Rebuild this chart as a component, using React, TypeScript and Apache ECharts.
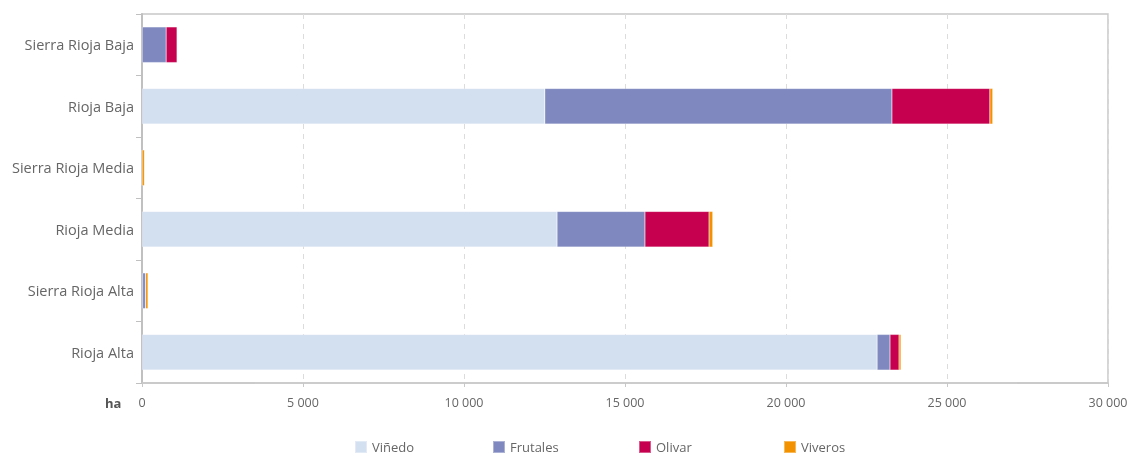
import React, { useEffect, useRef } from "react";
import * as echarts from "echarts";

const categories = ["Rioja Alta", "Sierra Rioja Alta", "Rioja Media", "Sierra Rioja Media", "Rioja Baja", "Sierra Rioja Baja"];
const seriesNames = ["Viñedo", "Frutales", "Olivar", "Viveros"];
const vinedo = [22830, 20, 12890, 5, 12510, 10];
const frutales = [400, 90, 2730, 0, 10780, 740];
const olivar = [280, 5, 1990, 0, 3040, 340];
const viveros = [60, 70, 115, 70, 90, 0];
const xTicks = [0, 5000, 10000, 15000, 20000, 25000, 30000];
const colors = ["#d3e0f0", "#7f89bf", "#c6004f", "#f39200"];

export default function App() {
  const ref = useRef<HTMLDivElement>(null);
  useEffect(() => {
    document.body.style.margin = "0";
    const chart = echarts.init(ref.current!, null, { renderer: "svg" });
    const font = "'Open Sans', 'Noto Sans', sans-serif";
    const data = [vinedo, frutales, olivar, viveros];
    const legendLefts = [354, 492, 638, 783];
    chart.setOption({
      animation: false,
      textStyle: { fontFamily: font },
      grid: {
        left: 142, right: 24, top: 14, bottom: 73,
        show: true, borderColor: "#c8c8c8", borderWidth: 1.5,
      },
      xAxis: {
        type: "value",
        min: xTicks[0],
        max: xTicks[xTicks.length - 1],
        interval: 5000,
        axisLine: { show: true, lineStyle: { color: "#c8c8c8", width: 1.5 } },
        axisTick: { show: true, length: 4, lineStyle: { color: "#c8c8c8" } },
        splitLine: { show: true, lineStyle: { color: "#dcdcdc", type: [5, 5] } },
        axisLabel: {
          color: "#666", fontSize: 12.5, margin: 13,
          formatter: (v: number) => String(v).replace(/\B(?=(\d{3})+(?!\d))/g, " "),
        },
      },
      yAxis: {
        type: "category",
        data: categories,
        axisLine: { show: true, lineStyle: { color: "#c0c0c0", width: 2 } },
        axisTick: { show: true, length: 6, lineStyle: { color: "#c0c0c0" } },
        axisLabel: { color: "#666", fontSize: 14.5, margin: 8 },
      },
      legend: seriesNames.map((name, i) => ({
        left: legendLefts[i], top: 440, padding: 0,
        itemWidth: 12, itemHeight: 12, itemGap: 10,
        icon: "rect",
        textStyle: { color: "#666", fontSize: 13, lineHeight: 13 },
        data: [name],
      })),
      graphic: [
        { type: "text", left: 105, top: 396, style: { text: "ha", fill: "#555", font: `bold 13px ${font}` } },
      ],
      series: seriesNames.map((name, i) => ({
        name,
        type: "bar",
        stack: "total",
        barWidth: "58%",
        itemStyle: { color: colors[i], borderColor: "rgba(255,255,255,0.35)", borderWidth: 0.5 },
        data: data[i],
      })),
    });
    return () => chart.dispose();
  }, []);
  return <div ref={ref} style={{ position: "fixed", left: 0, top: 0, width: 1132, height: 456 }} />;
}
